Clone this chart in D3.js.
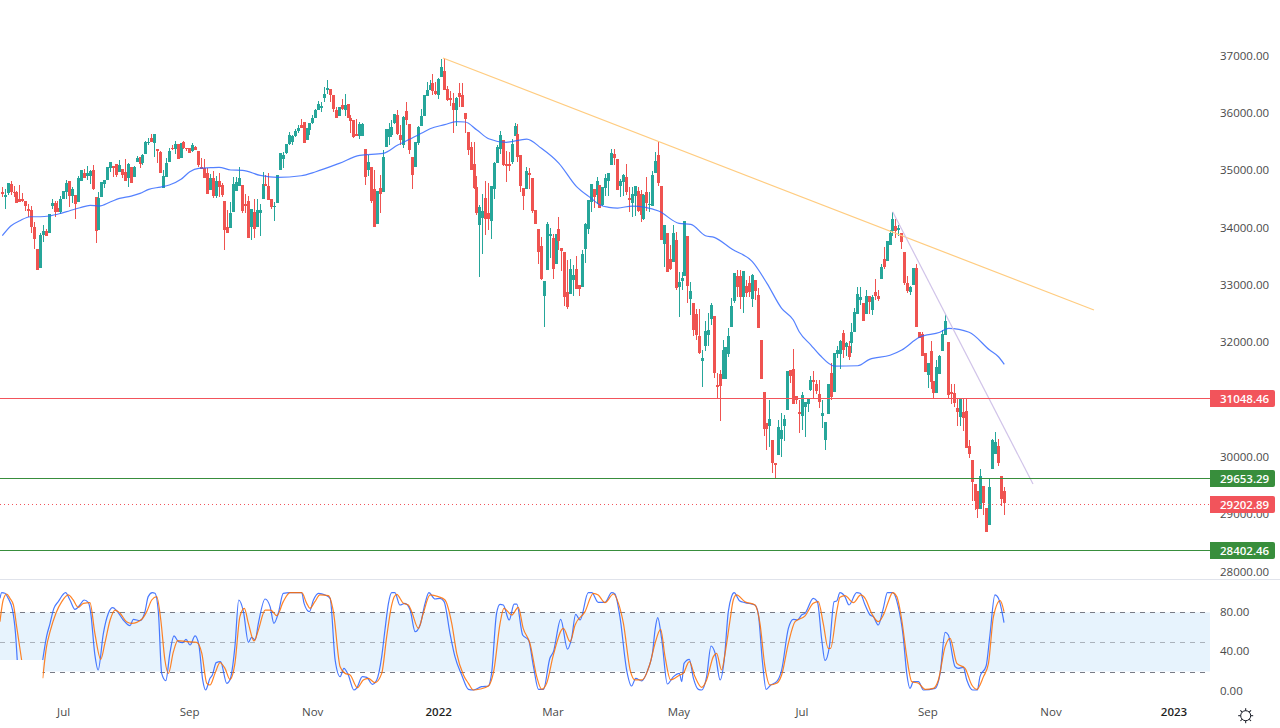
<!DOCTYPE html>
<html>
<head>
<meta charset="utf-8">
<script src="https://cdn.jsdelivr.net/npm/d3@7"></script>
<style>
    html, body { margin: 0; padding: 0; background: #fff; overflow: hidden; }
    text { font-family: "Open Sans", sans-serif; }
</style>
</head>
<body>
<div id="chart"></div>
<script>
// daily candles, open / high / low / close
var candles = [
[34629,34711,34548,34594],[34542,34676,34339,34577],[34618,34780,34577,34780],[34769,34821,34577,34629],[34635,34734,34548,34606],
[34623,34652,34432,34443],[34501,34745,34461,34461],[34507,34606,34461,34478],[34478,34478,34304,34391],[34327,34420,34199,34304],
[34315,34385,33920,34019],[34019,34112,33635,33810],[33635,33635,33269,33269],[33310,33909,33298,33879],[33879,34054,33763,33949],
[33949,33984,33868,33868],[33920,34240,33920,34240],[34391,34507,34327,34432],[34443,34478,34199,34286],[34344,34478,34286,34286],
[34286,34554,34246,34501],[34501,34647,34501,34647],[34635,34838,34501,34792],[34821,34821,34373,34560],[34560,34722,34432,34682],
[34577,34577,34158,34420],[34461,34908,34461,34873],[34821,35013,34821,35013],[34960,35024,34868,34879],[34908,35082,34838,34955],
[34908,35013,34769,34995],[35013,35100,34664,34687],[34536,34536,33734,33955],[33967,34623,33967,34525],[34548,34809,34548,34804],
[34769,34838,34693,34838],[34838,35071,34838,35059],[35042,35158,34984,35152],[35082,35082,34897,35053],[35117,35117,34897,34925],
[34978,35187,34978,35100],[35030,35030,34879,34925],[34972,35205,34821,34821],[34868,35129,34722,35117],[35059,35059,34780,34792],
[34897,35082,34897,35071],[35158,35251,35158,35216],[35234,35234,35053,35112],[35129,35286,35100,35274],[35292,35518,35292,35501],
[35489,35565,35449,35507],[35576,35635,35495,35495],[35489,35640,35245,35640],[35379,35379,35129,35350],[35327,35350,34966,34966],
[34705,35013,34705,34908],[34897,35216,34897,35135],[35158,35402,35158,35344],[35396,35449,35361,35373],[35373,35518,35292,35466],
[35466,35466,35205,35205],[35222,35478,35222,35478],[35501,35518,35379,35391],[35402,35402,35350,35373],[35391,35391,35303,35315],
[35344,35489,35332,35449],[35414,35431,35361,35361],[35350,35350,35059,35100],[35059,35216,35024,35036],[35042,35199,34868,34879],
[34960,35042,34594,34594],[34664,34943,34664,34867],[34867,34995,34530,34565],[34559,34908,34530,34821],[34821,34955,34548,34722],
[34751,34780,34548,34577],[34472,34472,33618,33967],[34025,34315,33920,33920],[34007,34449,34007,34263],[34280,34896,34280,34769],
[34652,34896,34652,34803],[34734,35065,34734,34873],[34751,34751,34257,34298],[34420,34588,34257,34385],[34472,34565,33827,33827],
[34019,34333,33792,34333],[34280,34507,33821,33984],[34025,34507,34025,34315],[34257,34420,33862,34315],[34507,34978,34507,34769],
[34769,34925,34734,34734],[34734,34955,34490,34490],[34507,34507,34333,34368],[34373,34449,34123,34385],[34437,34925,34437,34925],
[35013,35309,35013,35309],[35204,35327,35048,35268],[35309,35466,35292,35466],[35466,35675,35449,35623],[35501,35623,35449,35605],
[35605,35727,35582,35693],[35693,35797,35652,35745],[35797,35902,35745,35745],[35850,35850,35489,35489],[35536,35745,35536,35745],
[35710,35832,35623,35832],[35832,35972,35815,35919],[35919,36076,35919,36059],[36059,36216,36059,36163],[36094,36198,36024,36129],
[36268,36460,36198,36338],[36408,36582,36338,36442],[36425,36425,36198,36320],[36320,36320,36024,36076],[36059,36117,35919,35919],
[35954,36111,35954,36111],[36146,36245,36059,36076],[36059,36338,35954,36146],[36163,36163,35919,35919],[35919,35972,35652,35867],
[35884,35884,35571,35588],[35640,35902,35605,35605],[35605,35850,35553,35815],[35605,35832,35605,35815],[35379,35379,34751,34891],
[35013,35274,34908,35152],[35065,35065,34437,34472],[34681,35013,34019,34019],[34071,34647,34071,34647],[34699,34925,34263,34594],
[34629,35361,34629,35239],[35414,35727,35414,35727],[35582,35832,35449,35727],[35623,35884,35582,35757],[35832,35989,35815,35989],
[35972,36059,35623,35640],[35623,35797,35449,35536],[35449,35954,35391,35937],[36041,36198,35797,35884],[35815,35815,35292,35361],
[35239,35239,34681,34925],[35065,35501,35065,35501],[35483,35780,35449,35762],[35780,36076,35780,35954],[35954,36320,35954,36320],
[36303,36547,36303,36408],[36408,36582,36408,36495],[36530,36687,36320,36390],[36390,36547,36320,36338],[36320,36617,36251,36599],
[36634,36948,36634,36809],[36739,36966,36408,36408],[36425,36477,36216,36233],[36268,36390,36129,36233],[36181,36349,35658,36059],
[36059,36285,35780,36268],[36355,36530,36117,36285],[36320,36530,36111,36111],[36007,36007,35658,35902],[35675,35675,35274,35361],
[35414,35501,35013,35013],[35117,35501,34681,34699],[34716,34908,34228,34263],[34054,34402,33153,34368],[34181,34594,33548,34298],
[34524,34821,33879,34158],[34263,34786,33967,34158],[34123,34734,33810,34734],[34681,35152,34507,35135],[35135,35449,35135,35414],
[35379,35693,35292,35623],[35536,35536,35082,35100],[35117,35344,34803,35082],[35117,35327,34995,35088],[35152,35553,35117,35466],
[35605,35832,35605,35780],[35640,35815,35152,35239],[35274,35274,34629,34734],[34699,34699,34315,34559],[34681,35065,34681,34995],
[34960,35048,34681,34925],[34873,34873,34263,34298],[34315,34315,34071,34071],[33984,33984,33374,33583],[33687,33844,33095,33106],
[32816,33077,32281,33077],[33269,34106,33269,34071],[33862,34001,33478,33897],[33827,33897,33112,33287],[33374,33897,33374,33897],
[33984,34193,33618,33775],[33653,33653,33252,33600],[33583,33583,32641,32798],[32886,33443,32589,32624],[32851,33461,32851,33287],
[33095,33356,32816,33182],[33287,33513,32938,32938],[33008,33008,32816,32938],[32973,33618,32973,33548],[33635,34089,33391,34071],
[33984,34490,33897,34490],[34455,34769,34280,34769],[34681,34681,34350,34542],[34577,34891,34420,34821],[34751,34751,34350,34350],
[34402,34716,34385,34716],[34699,34943,34559,34873],[34821,34960,34559,34960],[35100,35379,35100,35309],[35292,35379,35100,35222],
[35204,35204,34664,34664],[34734,34856,34548,34821],[34803,34943,34559,34925],[34891,35117,34577,34629],[34524,34716,34280,34490],
[34437,34716,34193,34594],[34559,34734,34210,34734],[34646,34716,34280,34298],[34594,34664,34106,34228],[34158,34594,34141,34577],
[34629,34891,34298,34437],[34408,34629,34286,34420],[34385,34995,34385,34925],[34960,35326,34960,35169],[35274,35501,34734,34786],
[34734,34734,33792,33792],[33722,34054,33321,34054],[33914,33914,33234,33234],[33461,33705,33269,33286],[33408,34054,33408,33914],
[33792,33932,32920,32955],[32973,33234,32449,33060],[33077,33234,32920,33129],[33164,34123,33164,34123],[33862,33862,32694,32990],
[32763,33060,32484,32903],[32694,32694,32118,32223],[32502,32589,32048,32136],[32118,32589,31804,31822],[31688,31874,31229,31735],
[31944,32380,31857,32205],[32136,32519,31944,32223],[32415,32694,32310,32659],[32467,32467,31386,31473],[31264,31473,31020,31229],
[31456,31525,30636,31246],[31368,32048,31368,31874],[31368,31932,31368,31932],[31810,32258,31752,32118],[32275,32781,32275,32641],
[32728,33211,32688,33211],[33164,33269,32804,32973],[33164,33269,32589,32798],[32798,33252,32519,33252],[32990,33095,32804,32868],
[33042,33164,32804,32885],[32763,33199,32624,33182],[33095,33095,32746,32903],[32833,32955,32258,32258],[32048,32048,31368,31368],
[31142,31142,30375,30497],[30595,30595,30130,30497],[30549,31002,30189,30671],[30305,30305,29729,29904],[29904,29904,29636,29869],
[30043,30654,30043,30531],[30322,30770,30014,30479],[30549,30741,30287,30671],[30828,31508,30828,31508],[31525,31525,31293,31421],
[31543,31891,30933,30933],[31072,31072,30933,31002],[30793,31002,30427,30758],[30723,31141,30479,31089],[30880,30967,30362,30967],
[30932,31019,30787,31019],[31176,31420,31159,31350],[31350,31507,31019,31316],[31281,31350,31106,31159],[31106,31350,30862,30967],
[30723,31002,30513,30769],[30304,30618,30130,30618],[30758,31281,30758,31281],[31473,31647,31002,31054],[31141,31821,31141,31821],
[31804,31943,31734,31873],[31804,32048,31542,32031],[32170,32222,31734,31873],[31926,32013,31769,31996],[31943,32031,31699,31752],
[31996,32344,31821,32187],[32187,32606,32187,32536],[32501,32972,32501,32850],[32745,32972,32658,32798],[32693,32693,32379,32379],
[32501,32920,32501,32815],[32815,32815,32501,32711],[32571,32833,32484,32798],[32885,33111,32745,32815],[32815,32920,32728,32763],
[33111,33373,33111,33321],[33460,33670,33286,33321],[33425,33774,33425,33774],[33704,33966,33704,33914],[33948,34280,33861,34158],
[34036,34158,33826,33948],[33966,34053,33861,34001],[33914,33914,33635,33757],[33582,33582,33007,33042],[33042,33164,32867,32902],
[32885,32990,32833,32972],[33007,33303,33007,33303],[33303,33373,32275,32275],[32187,32187,32083,32083],[32153,32187,31769,31769],
[31821,31821,31490,31490],[31438,31647,31211,31647],[31856,32031,31194,31316],[31333,31333,31031,31124],[31124,31699,31124,31577],
[31455,31786,31455,31769],[31856,32222,31856,32153],[32135,32501,32135,32379],[32013,32013,31019,31089],[31141,31281,30932,31106],
[31124,31281,30880,30949],[30862,31019,30548,30793],[30705,31019,30548,31019],[30793,31019,30461,30688],[30810,31019,30165,30165],
[30200,30304,29990,30060],[29956,29956,29241,29572],[29537,29537,29084,29241],[29415,29415,28944,29101],[29101,29799,29101,29677],
[29502,29502,28997,29206],[29119,29119,28700,28700],[28822,29624,28822,29485],[29799,30322,29799,30304],[30060,30444,30060,30269],
[30200,30322,29851,29903],[29677,29677,29153,29276],[29415,29485,28997,29202.89]
];

// moving average, [bar, value]
var movingAverage = [
[0,33866],[3,34040],[6,34128],[9.5,34197],[13,34197],[16,34210],[20,34257],[23,34302],[26.5,34354],[30,34396],[33,34384],[37,34459],
[40,34518],[44,34558],[47,34605],[50,34675],[54,34715],[57,34750],[61,34849],[64,34982],[67,35041],[71,35052],[74,35059],[78,35012],
[82,35006],[88,34919],[94,34884],[102,34912],[107,34982],[115,35128],[122,35268],[130,35303],[135,35448],[139,35547],[143,35652],
[146,35732],[151,35802],[155,35854],[158,35849],[162,35709],[166,35558],[172,35495],[179,35552],[184,35390],[190,35128],[196,34721],
[201,34518],[204,34401],[207,34361],[210,34349],[215,34384],[224,34297],[231,34082],[235,34065],[240,33866],[243,33838],[249,33634],
[256,33413],[261,33036],[266,32600],[270,32396],[272,32192],[276,31960],[279,31786],[284,31594],[292,31599],[296,31711],[303,31781],
[307,31873],[313,32095],[320,32182],[323,32251],[330,32182],[337,31873],[340,31756],[342,31624]
];

// stochastic %K and %D, [bar, value], null where the reference has a gap
var stochK = [
[-0.8,94.3],[-0.2,100],[0.9,99.4],[2,94.3],[3.5,82.4],[4.5,58.8],[5.1,31.7],null,
[13.8,31.7],[15.1,55.4],[16.3,68.9],[17.6,84.1],[19.1,90.9],[21.6,100],[23.1,92.6],[24.8,83.1],[26.5,87.5],[27.9,92.6],[29.4,89.9],
[30.2,79.1],[31.6,36.8],[32.7,21.5],[34.5,58.8],[36.2,79.1],[37.7,84.8],[39,81.8],[41.3,72.3],[43.6,66.5],[44.7,73],[47,71.6],[48.7,80.8],
[49.8,96],[51.2,100],[52.1,99.4],[53.3,79.1],[54.4,18.1],[55.8,10.7],[57.2,38.5],[58.6,56.1],[60.1,50.3],[61.6,49.3],[62.7,52.7],[64.1,46.9],
[65.8,56.1],[67.1,46.9],[68.4,11.4],[69.4,1.2],[70.9,13.1],[71.7,16.5],[73,29],[74.5,30],[76.6,8],[77.7,11.4],[79.4,45.2],[80.7,92.6],
[82.3,80.8],[84,49.6],[85.1,54.7],[86.3,52],[87.4,68.9],[89.7,93.6],[91.4,85.8],[92.7,68.9],[94.2,79.1],[95.9,99.4],[98.2,100],[102.2,100],
[103,89.2],[104.8,80.8],[106.2,92.6],[107.9,99.4],[110.2,97.7],[111.9,94.3],[113.6,31.7],[115.3,14.8],[116.6,23.2],[118.1,16.5],[120,1.2],
[120.9,2.9],[122.9,14.8],[124.4,14.1],[126.3,7],[127.8,11.4],[129.5,35.1],[130.6,62.1],[131.8,89.2],[132.9,100],[134,100],[135.7,87.5],
[137.4,89.2],[139.2,82.4],[140.9,60.4],[142.6,67.2],[144.3,89.2],[145.6,100],[147.7,93.6],[149.4,94.3],[150.8,90.9],[152.8,58.8],[154.5,35.1],
[156.8,16.5],[159.1,1.9],[160.8,1.2],[163.6,4.6],[165.9,5.3],[167,18.1],[168.7,79.1],[169.9,88.2],[171,87.5],[173,72.3],[174.7,88.5],
[175.6,88.5],[177.6,57.1],[179.6,52],[181.3,24.9],[183,1.9],[184.7,1.9],[186.9,33.4],[188.1,40.1],[190.6,73],[192.9,42.8],[194.3,53.7],
[195.7,78],[197.2,72.3],[200,100],[201.2,100],[203.4,90.2],[205.7,90.2],[208,100],[209.1,98.7],[210.8,75.7],[213.1,21.5],[214.8,5.3],
[216.2,13.1],[218.2,10.4],[220.5,23.2],[221.9,38.5],[222.8,62.1],[223.7,74.7],[225.1,52],[227,7.3],[229.1,14.8],[231.1,18.1],[231.9,9.7],
[232.7,28.3],[234.5,32.4],[235.9,13.1],[237.6,1.9],[238.7,1.2],[240.4,14.8],[241.9,45.9],[243.3,38.5],[245,11.4],[246.4,31.7],[247.8,80.8],
[248.9,96],[249.8,100],[251.6,91.9],[253.5,89.9],[256.9,87.5],[258,79.1],[259.5,28.3],[260.7,1.9],[262.3,6.3],[264.3,9.7],[266,21.5],
[268.3,63.8],[270,73],[271.4,72.3],[272.8,77.4],[274,79.1],[276.8,94.3],[278.2,90.9],[279.7,52],[280.8,31],[282.3,45.2],[283.9,90.9],
[284.8,91.6],[285.9,100],[287.6,96],[289,87.5],[291.6,100],[292.8,99.4],[294.5,87.5],[296.2,77.4],[297.3,75.7],[299,67.2],[300.7,84.1],
[302.1,100],[303.9,100],[305.8,85.8],[307.5,55.4],[308.7,18.1],[309.8,2.9],[311,9.7],[312.7,9.7],[314.4,1.2],[318.4,2.9],[320.1,18.1],
[321.8,59.8],[322.9,57.1],[325.2,24.9],[326.3,23.2],[328,24.2],[329.2,11.4],[331.2,1.2],[332.8,1.2],[333.7,14.8],[335.8,25.6],[337.1,57.1],
[338.8,97.7],[340,94.3],[341.9,69.6]
];
var stochD = [
[-0.8,70.6],[0.3,92.6],[1.5,98.7],[2.6,94.3],[3.8,87.5],[4.9,65.5],[6.6,31.7],null,
[13.8,13.1],[15.1,45.2],[16.3,60.4],[18.3,79.1],[20.3,90.9],[22.5,97.7],[24.2,92.6],[25.9,85.2],[27.7,89.2],[29.9,89.9],[31.6,58.8],
[33.6,32.4],[35,48.6],[36.8,72.3],[38.5,82.4],[40.2,79.1],[42.4,70.6],[44.2,68.9],[47.6,73],[49.3,80.8],[51,92.6],[52.7,96],[54.1,72.3],
[55.5,31.7],[56.7,18.1],[58.4,40.1],[59.9,51.3],[62.9,50.3],[66.3,49.6],[68.1,38.5],[69.8,8],[70.9,6.3],[72.6,18.1],[74.3,29],[76,23.2],
[77.7,12.1],[79.4,28.3],[81.1,75.7],[82.6,84.1],[84,68.9],[85.9,51],[87.4,62.1],[89.7,82.4],[91.6,82.4],[93.7,76.7],[95.9,90.9],[98.2,100],
[102.2,100],[103.9,89.2],[105,84.1],[106.7,90.9],[108.4,97.7],[111.3,97],[113,80.8],[115.3,24.9],[117,18.1],[118.7,16.5],[121.2,3.6],
[123.2,11.4],[124.9,13.1],[127.2,8.7],[129.5,18.1],[131.2,55.4],[132.9,87.5],[134.6,98.3],[136.9,89.2],[138.6,87.5],[139.7,80.8],[142,63.8],
[143.7,79.1],[146,97.7],[148.8,96],[151.1,92.6],[153.4,68.9],[155.1,38.5],[157.4,16.5],[159.1,8],[160.8,1.2],[163.1,2.2],[165.9,5.3],
[167.8,21.5],[169.9,68.9],[171.2,84.1],[173.9,77.4],[176.1,85.2],[177.8,63.8],[180.1,48.6],[182.4,14.8],[184.1,1.9],[185.8,8],[188.1,36.8],
[191.5,63.8],[193.8,50.3],[195.5,67.2],[198.9,80.8],[201.7,99.4],[203.4,97.7],[205.7,89.9],[208.6,98.7],[210.3,89.2],[212,68.9],[214.3,21.5],
[216,11.4],[218.2,11.4],[221.1,28.3],[222.8,48.6],[224.7,62.8],[226.2,35.1],[228.1,11.4],[231.3,16.5],[232.4,18.1],[234.5,30],[236.4,14.8],
[238.7,3.9],[240.4,11.4],[242.7,35.1],[243.8,38.5],[245.5,21.5],[246.7,38.5],[248.4,72.3],[249.5,92.6],[250.6,97.7],[253.5,90.9],[256.9,87.5],
[258.6,68.9],[260.3,24.9],[262,6.3],[264.3,8],[266,16.5],[268.3,48.6],[270.6,70.6],[274,76.4],[276.8,89.2],[278.5,90.9],[280.2,68.9],
[281.9,43.5],[282.7,43.5],[284.8,80.8],[285.9,95.3],[287.6,97],[290.5,89.9],[293,97.7],[294.5,94.3],[296.7,79.1],[299,70.6],[301,79.1],
[302.4,90.9],[303.9,100],[305.3,96],[307,72.3],[308.7,35.1],[310.4,9.7],[312.7,8],[315,1.9],[317.8,2.9],[319.5,11.4],[321.8,45.2],[323.5,53.7],
[325.8,28.3],[328.6,23.2],[330.9,6.3],[332.6,1.9],[334.9,14.8],[336.6,28.3],[338.3,75.7],[340.6,92],[341.9,80.8]
];

var trendMain = [[150.4,36965],[372.6,32570]];
var trendSteep = [[303.9,34285],[351.8,29537]];

var resistance = 31048.46;
var supportUpper = 29653.29;
var supportLower = 28402.46;
var lastPrice = 29202.89;

// 31000.00 sits behind the resistance tag in the reference, so it is not listed
var priceTicks = [28000,29000,30000,32000,33000,34000,35000,36000,37000];
var stochTicks = [0,40,80];
var stochBand = [20,50,80];
var timeTicks = [21,64,106,149,188,231,273,316,358,400];
var timeLabels = ["Jul","Sep","Nov","2022","Mar","May","Jul","Sep","Nov","2023"];

var width = 1280, height = 728, paneRight = 1210;
var UP = "#26a69a", DOWN = "#ef5350", LEVEL_RED = "#f2545b", LEVEL_GREEN = "#388e3c";

var svg = d3.select("#chart").append("svg")
    .attr("width", width).attr("height", height)
    .style("display", "block");

var x = d3.scaleLinear().domain([0, 342]).range([2.3, 1004.3]);
var y = d3.scaleLinear().domain([28000, 37000]).range([572.15, 56]);
var yStoch = d3.scaleLinear().domain([0, 100]).range([691.2, 592.7]);

// ---- stochastic pane ----
svg.append("rect")
    .attr("x", 0).attr("width", paneRight)
    .attr("y", yStoch(80)).attr("height", yStoch(20) - yStoch(80))
    .attr("fill", "#e7f3fd");

svg.selectAll(".band").data(stochBand).enter().append("line")
    .attr("x1", 0).attr("x2", paneRight)
    .attr("y1", function (d) { return Math.round(yStoch(d)) + 0.5; })
    .attr("y2", function (d) { return Math.round(yStoch(d)) + 0.5; })
    .attr("stroke", "#787b86")
    .attr("stroke-opacity", function (d) { return d === 50 ? 0.55 : 1; })
    .attr("stroke-dasharray", "5 5");

var stochLine = d3.line()
    .defined(function (d) { return d !== null; })
    .x(function (d) { return x(d[0]); })
    .y(function (d) { return yStoch(d[1]); })
    .curve(d3.curveMonotoneX);

svg.append("path").attr("d", stochLine(stochK))
    .attr("fill", "none").attr("stroke", "#2962ff").attr("stroke-width", 1.2).attr("stroke-opacity", 0.85);
svg.append("path").attr("d", stochLine(stochD))
    .attr("fill", "none").attr("stroke", "#ff6d00").attr("stroke-width", 1.2).attr("stroke-opacity", 0.85);

// the reference has this corner blanked out
svg.append("rect").attr("x", 0).attr("y", 660).attr("width", 42.5).attr("height", 40).attr("fill", "#fff");

svg.append("line")
    .attr("x1", 0).attr("x2", width).attr("y1", 579.5).attr("y2", 579.5)
    .attr("stroke", "#e0e3eb");

// ---- candles ----
var bars = svg.append("g").attr("shape-rendering", "crispEdges")
    .selectAll("g").data(candles).enter().append("g")
    .attr("fill", function (d) { return d[3] >= d[0] ? UP : DOWN; });

bars.append("rect")
    .attr("x", function (d, i) { return Math.floor(x(i)); })
    .attr("width", 1)
    .attr("y", function (d) { return y(d[1]); })
    .attr("height", function (d) { return Math.max(1, y(d[2]) - y(d[1])); });

bars.append("rect")
    .attr("x", function (d, i) { return Math.floor(x(i)) - 1; })
    .attr("width", 3)
    .attr("y", function (d) { return y(Math.max(d[0], d[3])); })
    .attr("height", function (d) { return Math.max(1, Math.abs(y(d[0]) - y(d[3]))); });

// ---- moving average and drawn lines ----
var priceLine = d3.line()
    .x(function (d) { return x(d[0]); })
    .y(function (d) { return y(d[1]); });

svg.append("path").attr("d", priceLine.curve(d3.curveMonotoneX)(movingAverage))
    .attr("fill", "none").attr("stroke", "#2962ff").attr("stroke-width", 1.2).attr("stroke-opacity", 0.8);

priceLine.curve(d3.curveLinear);
svg.append("path").attr("d", priceLine(trendMain))
    .attr("fill", "none").attr("stroke", "#ffcc80").attr("stroke-width", 1.2);
svg.append("path").attr("d", priceLine(trendSteep))
    .attr("fill", "none").attr("stroke", "#d1c4e9").attr("stroke-width", 1.2);

// ---- axes ----
var priceAxis = d3.axisRight(y).tickValues(priceTicks).tickFormat(d3.format(".2f")).tickSize(0).tickPadding(0);
var stochAxis = d3.axisRight(yStoch).tickValues(stochTicks).tickFormat(d3.format(".2f")).tickSize(0).tickPadding(0);
var timeAxis = d3.axisBottom(x).tickValues(timeTicks)
    .tickFormat(function (d, i) { return timeLabels[i]; }).tickSize(0).tickPadding(0);

[svg.append("g").attr("transform", "translate(1220,-0.5)").call(priceAxis),
 svg.append("g").attr("transform", "translate(1220,-0.5)").call(stochAxis),
 svg.append("g").attr("transform", "translate(-0.7,708)").call(timeAxis)].forEach(function (g) {
    g.select(".domain").remove();
    g.selectAll("text").attr("fill", "#4a4a4a").style("font-size", "11.5px").style("font-family", '"Open Sans", sans-serif');
});

svg.selectAll("text").filter(function () { return this.textContent === "2022" || this.textContent === "2023"; })
    .attr("fill", "#1f1f1f").style("font-weight", 600);

// ---- horizontal levels with their price tags ----
var levels = [
    { value: resistance, color: LEVEL_RED, dash: null },
    { value: supportUpper, color: LEVEL_GREEN, dash: null },
    { value: lastPrice, color: LEVEL_RED, dash: "1 3" },
    { value: supportLower, color: LEVEL_GREEN, dash: null }
];

var level = svg.append("g").selectAll("g").data(levels).enter().append("g");

level.append("line")
    .attr("x1", 0).attr("x2", paneRight)
    .attr("y1", function (d) { return Math.round(y(d.value)) + 1.5; })
    .attr("y2", function (d) { return Math.round(y(d.value)) + 1.5; })
    .attr("stroke", function (d) { return d.color; })
    .attr("stroke-dasharray", function (d) { return d.dash; });

level.append("path")
    .attr("d", function (d) {
        var top = Math.round(y(d.value)) - 7;
        return "M1210," + top + "H1273a2,2 0 0 1 2,2V" + (top + 15) + "a2,2 0 0 1 -2,2H1210Z";
    })
    .attr("fill", function (d) { return d.color; });

level.append("text")
    .attr("x", 1220)
    .attr("y", function (d) { return Math.round(y(d.value)) + 1.5; })
    .attr("dy", "0.36em")
    .attr("fill", "#fff")
    .style("font-size", "11.5px")
    .style("font-weight", 600)
    .text(function (d) { return d3.format(".2f")(d.value); });

// ---- settings icon ----
var gear = svg.append("g").attr("transform", "translate(1245.7,715.7)")
    .attr("fill", "none").attr("stroke", "#131722");
gear.append("circle").attr("r", 5);
d3.range(8).forEach(function (k) {
    gear.append("line").attr("y1", -5).attr("y2", -7.5)
        .attr("transform", "rotate(" + (k * 45) + ")");
});
</script>
</body>
</html>
